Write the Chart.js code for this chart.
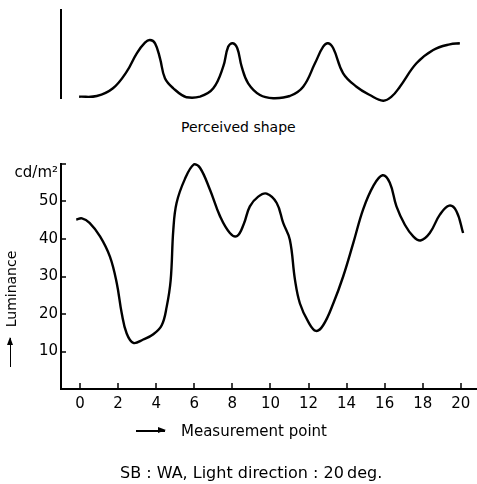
<!DOCTYPE html>
<html>
<head>
<meta charset="utf-8">
<title>Luminance - measurement point</title>
<script src="https://cdn.jsdelivr.net/npm/chart.js@4.4.1/dist/chart.umd.min.js"></script>
<style>
    body { margin: 0; background: #fff; }
    #wrap { position: relative; width: 477px; height: 484px; overflow: hidden; font-family: 'DejaVu Sans', sans-serif; color: #000; }
    canvas { position: absolute; left: 0; }
    #shapeChart { top: 0; }
    #lumChart { top: 140px; }
    .txt { position: absolute; white-space: nowrap; line-height: 1; }
    .arr { display: inline-block; position: relative; height: 1.5px; background: #000; vertical-align: middle; }
    .arr::after { content: ''; position: absolute; right: -1px; top: -3px; border-left: 8px solid #000; border-top: 3.75px solid transparent; border-bottom: 3.75px solid transparent; }
    #shapeTitle { left: 181px; top: 120px; font-size: 14px; }
    #xTitle { left: 136px; top: 424px; font-size: 15px; }
    #xTitle .arr { width: 29px; margin-right: 16px; margin-top: -1px; }
    #yTitle { left: -59px; top: 302px; width: 140px; font-size: 14px; text-align: center; transform: rotate(-90deg); }
    #yTitle .arr { width: 29px; margin-right: 11px; margin-top: -3px; }
    #footer { left: 120px; top: 465px; font-size: 16px; }
</style>
</head>
<body>
<div id="wrap">
    <canvas id="shapeChart" width="477" height="112"></canvas>
    <canvas id="lumChart" width="477" height="344"></canvas>
    <div class="txt" id="shapeTitle">Perceived shape</div>
    <div class="txt" id="yTitle"><span class="arr"></span>Luminance</div>
    <div class="txt" id="xTitle"><span class="arr"></span>Measurement point</div>
    <div class="txt" id="footer">SB : WA, Light direction : 20&#8201;deg.</div>
</div>
<script>
// ============================================================
// DADOS
// ============================================================

// curva de luminância medida (cd/m²)
const lumX = [-0.2, 0.1, 0.5, 1.05, 1.57, 1.93, 2.19, 2.45, 2.8, 3.32,
    3.85, 4.29, 4.55, 4.76, 4.9, 5.07, 5.5, 5.98, 6.3, 6.82,
    7.35, 7.87, 8.25, 8.6, 8.92, 9.36, 9.8, 10.33, 10.67, 11.02,
    11.29, 11.55, 11.99, 12.39, 12.77, 13.3, 13.82, 14.35, 14.87, 15.4,
    15.89, 16.27, 16.62, 17.06, 17.5, 17.88, 18.37, 18.9, 19.39, 19.77, 20.12];
const lumY = [45.2, 45.5, 44.3, 40.7, 35.3, 28.2, 20.2, 14.8, 12.3, 13.2,
    14.6, 17, 21.9, 29, 42.5, 49.6, 55.9, 59.9, 59.0, 53.2,
    46.1, 41.6, 40.8, 44.0, 48.7, 51.3, 52.1, 49.6, 44.3, 39.8,
    29.1, 22.8, 17.9, 15.5, 17, 22.8, 30, 38.9, 47.9, 54.1,
    57, 55, 48.7, 43.8, 40.7, 39.6, 41.6, 46.5, 48.9, 47.4, 41.6];

// forma percebida (unidade arbitrária)
const shapeX = [-0.05, 0.88, 1.73, 2.45, 2.98, 3.41, 3.67, 3.94, 4.2, 4.46,
    4.9, 5.6, 6.3, 7.0, 7.52, 7.78, 8.02, 8.26, 8.49, 8.83,
    9.45, 10.15, 11.02, 11.72, 12.34, 12.77, 13.03, 13.3, 13.82, 14.52,
    15.22, 15.92, 16.36, 16.8, 17.67, 18.55, 19.42, 19.95];
const shapeY = [1.33, 1.4, 2.17, 3.83, 5.67, 6.73, 7.0, 6.67, 5.17, 3.17,
    2.17, 1.27, 1.33, 2.17, 4.33, 6.33, 6.67, 6.17, 4.33, 2.67,
    1.5, 1.17, 1.4, 2.33, 4.67, 6.33, 6.67, 6.17, 3.67, 2.33,
    1.5, 0.93, 1.33, 2.33, 4.67, 6.0, 6.57, 6.67];

const xTicks = [0, 2, 4, 6, 8, 10, 12, 14, 16, 18, 20];
const yTicks = [10, 20, 30, 40, 50, 60];
const yUnit = 'cd/m²';

// ============================================================
// CONFIG
// ============================================================

Chart.defaults.font.family = "'DejaVu Sans', sans-serif";
Chart.defaults.color = '#000';

function pontos(xs, ys) {
    return xs.map((x, i) => ({ x: x, y: ys[i] }));
}

// tracinhos dos eixos voltados para dentro
const ticksDentro = {
    id: 'ticksDentro',
    afterDatasetsDraw(chart) {
        const ctx = chart.ctx;
        const area = chart.chartArea;
        const sx = chart.scales.x;
        const sy = chart.scales.y;
        ctx.save();
        ctx.strokeStyle = '#000';
        ctx.lineWidth = 1.5;
        ctx.beginPath();
        xTicks.forEach(v => {
            const px = Math.round(sx.getPixelForValue(v));
            ctx.moveTo(px, area.bottom);
            ctx.lineTo(px, area.bottom - 6);
        });
        yTicks.forEach(v => {
            const py = Math.round(sy.getPixelForValue(v));
            ctx.moveTo(area.left, py);
            ctx.lineTo(area.left + 5, py);
        });
        ctx.stroke();
        ctx.restore();
    }
};

const curva = {
    borderColor: '#000',
    borderWidth: 2.4,
    pointRadius: 0,
    fill: false,
    tension: 0.4,
    clip: false
};

const semGrade = { display: false, drawTicks: false, tickLength: 0 };

// forma percebida (em cima)
new Chart(document.getElementById('shapeChart'), {
    type: 'line',
    data: { datasets: [{ ...curva, data: pontos(shapeX, shapeY) }] },
    options: {
        responsive: false,
        animation: false,
        layout: { padding: { top: 10, bottom: 14, left: 0, right: 0 } },
        plugins: { legend: { display: false }, tooltip: { enabled: false } },
        scales: {
            x: { type: 'linear', min: -1, max: 20.85, display: false },
            y: {
                min: 1.2, max: 10,
                ticks: { display: false },
                grid: semGrade,
                border: { display: true, color: '#000', width: 2 },
                afterFit: s => { s.width = 61; }
            }
        }
    }
});

// luminância (embaixo)
new Chart(document.getElementById('lumChart'), {
    type: 'line',
    data: { datasets: [{ ...curva, data: pontos(lumX, lumY) }] },
    options: {
        responsive: false,
        animation: false,
        layout: { padding: { top: 24, bottom: 0, left: 0, right: 0 } },
        plugins: { legend: { display: false }, tooltip: { enabled: false } },
        scales: {
            x: {
                type: 'linear', min: -1, max: 20.85,
                afterBuildTicks: s => { s.ticks = xTicks.map(v => ({ value: v })); },
                afterFit: s => { s.height = 95; s.paddingLeft = 0; s.paddingRight = 0; },
                ticks: { font: { size: 15 }, padding: 6, autoSkip: false, maxRotation: 0 },
                grid: semGrade,
                border: { display: true, color: '#000', width: 2 }
            },
            y: {
                min: 0, max: 60,
                afterBuildTicks: s => { s.ticks = yTicks.map(v => ({ value: v })); },
                afterFit: s => { s.width = 61; s.paddingTop = 0; s.paddingBottom = 0; },
                ticks: {
                    font: { size: 15 }, padding: 3,
                    callback: v => v === 60 ? ['', yUnit] : v
                },
                grid: semGrade,
                border: { display: true, color: '#000', width: 2 }
            }
        }
    },
    plugins: [ticksDentro]
});
</script>
</body>
</html>
